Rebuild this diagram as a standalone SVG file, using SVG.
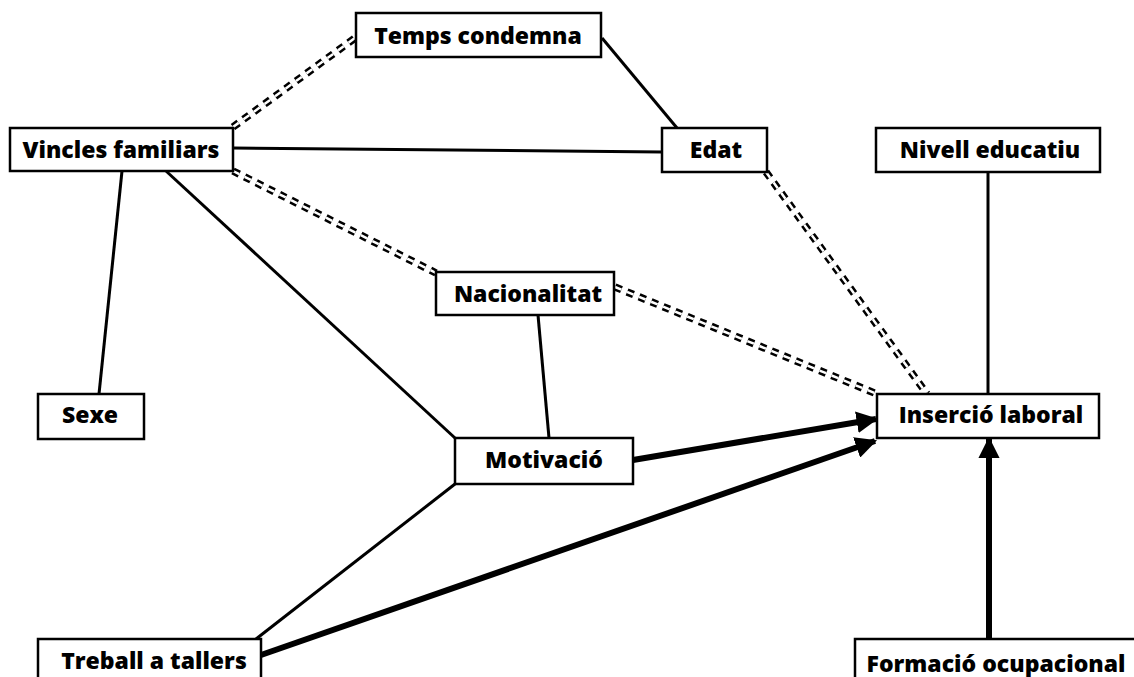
<svg xmlns="http://www.w3.org/2000/svg" width="1134" height="677" viewBox="0 0 1134 677">
<defs>
<style>
.box{fill:#fff;stroke:#000;stroke-width:2.5}
.lbl{font-family:"Open Sans","Liberation Sans",sans-serif;font-weight:800;font-size:23px;fill:#000;text-anchor:middle}
.solid{stroke:#000;stroke-width:3;fill:none}
.thick{stroke:#000;stroke-width:6;fill:none}
.dblo{stroke:#000;stroke-width:7.5;stroke-dasharray:7 6;fill:none}
.dbli{stroke:#fff;stroke-width:2.5;stroke-dasharray:7 6;fill:none}
</style>
<marker id="arr" viewBox="0 0 10 10" refX="9" refY="5" markerWidth="3.6" markerHeight="3.6" orient="auto" markerUnits="strokeWidth">
<path d="M0,0 L10,5 L0,10 z" fill="#000"/>
</marker>
</defs>
<rect width="1134" height="677" fill="#fff"/>
<g id="connectors">
<g id="dbl-vincles-temps"><line class="dblo" x1="233" y1="127" x2="355" y2="38"/><line class="dbli" x1="233" y1="127" x2="355" y2="38"/></g>
<g id="dbl-vincles-nac"><line class="dblo" x1="233" y1="171" x2="436" y2="273"/><line class="dbli" x1="233" y1="171" x2="436" y2="273"/></g>
<g id="dbl-edat-ins"><line class="dblo" x1="766" y1="172" x2="927" y2="394"/><line class="dbli" x1="766" y1="172" x2="927" y2="394"/></g>
<g id="dbl-nac-ins"><line class="dblo" x1="615" y1="287" x2="877" y2="394"/><line class="dbli" x1="615" y1="287" x2="877" y2="394"/></g>
<line class="solid" x1="602" y1="38" x2="677" y2="128"/>
<line class="solid" x1="233" y1="148" x2="662" y2="152"/>
<line class="solid" x1="122" y1="171" x2="99" y2="394"/>
<line class="solid" x1="166" y1="171" x2="455" y2="438"/>
<line class="solid" x1="538" y1="315" x2="549" y2="438"/>
<line class="solid" x1="988" y1="172" x2="988" y2="394"/>
<line class="solid" x1="455" y1="484" x2="256" y2="639"/>
<line class="thick" x1="633" y1="460" x2="876" y2="419" marker-end="url(#arr)"/>
<line class="thick" x1="261" y1="655" x2="875" y2="441" marker-end="url(#arr)"/>
<line class="thick" x1="989" y1="639" x2="989" y2="439" marker-end="url(#arr)"/>
</g>
<g id="temps"><rect class="box" x="356" y="13" width="245" height="44"/><text class="lbl" x="478" y="44">Temps condemna</text></g>
<g id="vincles"><rect class="box" x="10" y="128" width="223" height="43"/><text class="lbl" x="121" y="158">Vincles familiars</text></g>
<g id="edat"><rect class="box" x="662" y="128" width="105" height="44"/><text class="lbl" x="716" y="158">Edat</text></g>
<g id="nivell"><rect class="box" x="876" y="128" width="224" height="44"/><text class="lbl" x="990" y="158">Nivell educatiu</text></g>
<g id="nacionalitat"><rect class="box" x="436" y="272" width="178" height="43"/><text class="lbl" x="528" y="302">Nacionalitat</text></g>
<g id="sexe"><rect class="box" x="38" y="394" width="106" height="45"/><text class="lbl" x="90" y="423">Sexe</text></g>
<g id="insercio"><rect class="box" x="877" y="394" width="222" height="44"/><text class="lbl" x="991" y="423">Inserció laboral</text></g>
<g id="motivacio"><rect class="box" x="455" y="438" width="178" height="46"/><text class="lbl" x="544" y="468">Motivació</text></g>
<g id="treball"><rect class="box" x="38" y="639" width="223" height="45"/><text class="lbl" x="154" y="669">Treball a tallers</text></g>
<g id="formacio"><rect class="box" x="855" y="639" width="290" height="45"/><text class="lbl" x="996" y="672">Formació ocupacional</text></g>
</svg>
